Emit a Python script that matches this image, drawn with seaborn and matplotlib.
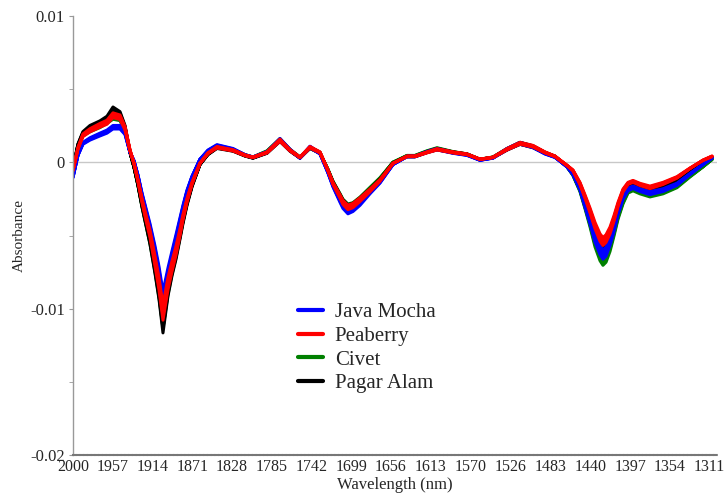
import numpy as np
import pandas as pd
import matplotlib
matplotlib.use("Agg")
import matplotlib.pyplot as plt
import seaborn as sns
from matplotlib.lines import Line2D

# Wavelength grid (nm)
wavelength = [2000.0, 1994.6, 1989.2, 1981.6, 1970.8, 1963.2, 1956.7, 1949.1, 1943.7, 1938.3,
              1934.0, 1929.7, 1925.3, 1921.0, 1916.7, 1911.3, 1906.9, 1902.6, 1897.2, 1892.9,
              1888.5, 1884.2, 1881.0, 1876.6, 1871.2, 1862.6, 1853.9, 1844.2, 1826.8, 1813.8,
              1805.2, 1790.0, 1776.0, 1765.1, 1754.3, 1743.5, 1732.7, 1724.0, 1718.6, 1711.0,
              1707.8, 1702.4, 1697.0, 1689.4, 1678.6, 1667.7, 1653.7, 1638.5, 1629.9, 1616.9,
              1606.0, 1588.7, 1573.6, 1559.5, 1545.4, 1530.3, 1516.2, 1502.1, 1489.2, 1478.3,
              1465.3, 1458.9, 1451.3, 1445.9, 1440.4, 1435.0, 1429.6, 1426.4, 1423.1, 1418.8,
              1414.5, 1410.1, 1404.7, 1399.3, 1393.9, 1386.3, 1375.5, 1361.4, 1346.3, 1332.2,
              1318.2, 1308.4]

# Absorbance values, in units of 1e-3
peaberry = [-0.55, 0.96, 1.85, 2.19, 2.53, 2.74, 3.22, 3.08, 2.33, 0.82,
            -0.07, -1.23, -2.60, -3.77, -4.86, -6.71, -8.29, -10.27, -8.29, -7.12,
            -6.03, -4.79, -3.77, -2.60, -1.44, -0.07, 0.62, 1.03, 0.82, 0.48,
            0.34, 0.68, 1.51, 0.82, 0.34, 1.03, 0.68, -0.55, -1.44, -2.33,
            -2.74, -3.08, -2.95, -2.55, -1.92, -1.23, -0.07, 0.41, 0.41, 0.68,
            0.89, 0.68, 0.55, 0.21, 0.34, 0.89, 1.30, 1.10, 0.68, 0.41,
            -0.21, -0.55, -1.44, -2.33, -3.29, -4.32, -5.14, -5.41, -5.21, -4.66,
            -3.84, -2.88, -1.92, -1.44, -1.30, -1.51, -1.71, -1.44, -1.03, -0.41,
            0.14, 0.41]

java_mocha = [-1.0, 0.5, 1.3, 1.6, 1.9, 2.1, 2.4, 2.4, 2.0, 0.7,
              0.1, -0.9, -2.2, -3.3, -4.4, -6.0, -7.5, -9.3, -7.6, -6.4,
              -5.2, -4.0, -3.1, -2.0, -1.0, 0.2, 0.8, 1.15, 0.9, 0.5,
              0.35, 0.7, 1.55, 0.85, 0.3, 1.05, 0.6, -0.7, -1.6, -2.6,
              -3.0, -3.35, -3.2, -2.8, -2.05, -1.35, -0.15, 0.4, 0.4, 0.7,
              0.9, 0.65, 0.5, 0.15, 0.3, 0.9, 1.3, 1.05, 0.6, 0.35,
              -0.3, -0.8, -1.8, -2.9, -4.0, -5.2, -6.0, -6.3, -6.1, -5.4,
              -4.5, -3.4, -2.4, -1.85, -1.7, -1.9, -2.1, -1.9, -1.5, -0.8,
              -0.15, 0.3]

civet = [-0.5, 1.1, 1.9, 2.2, 2.5, 2.8, 3.1, 3.0, 2.2, 0.7,
         -0.3, -1.5, -2.9, -4.1, -5.3, -7.1, -8.8, -10.8, -8.6, -7.3,
         -6.2, -4.9, -3.9, -2.7, -1.5, -0.1, 0.6, 1.05, 0.85, 0.5,
         0.35, 0.75, 1.55, 0.85, 0.35, 1.0, 0.65, -0.5, -1.35, -2.25,
         -2.65, -3.0, -2.9, -2.5, -1.8, -1.1, 0.0, 0.45, 0.45, 0.75,
         0.95, 0.7, 0.55, 0.2, 0.35, 0.9, 1.3, 1.05, 0.65, 0.4,
         -0.3, -0.85, -1.9, -3.0, -4.2, -5.5, -6.4, -6.7, -6.5, -5.8,
         -4.8, -3.7, -2.7, -2.0, -1.85, -2.05, -2.25, -2.05, -1.65, -0.95,
         -0.3, 0.2]

pagar_alam = [-0.4, 1.2, 2.0, 2.4, 2.7, 3.0, 3.6, 3.3, 2.4, 0.7,
              -0.3, -1.5, -2.9, -4.1, -5.3, -7.2, -8.9, -11.1, -8.7, -7.4,
              -6.3, -5.0, -4.0, -2.8, -1.6, -0.15, 0.55, 1.0, 0.8, 0.45,
              0.3, 0.65, 1.5, 0.8, 0.3, 1.0, 0.65, -0.55, -1.4, -2.3,
              -2.7, -3.05, -2.95, -2.55, -1.9, -1.2, -0.05, 0.4, 0.4, 0.7,
              0.9, 0.68, 0.55, 0.2, 0.33, 0.88, 1.3, 1.08, 0.66, 0.4,
              -0.25, -0.7, -1.65, -2.65, -3.7, -4.8, -5.65, -5.95, -5.75, -5.1,
              -4.2, -3.2, -2.2, -1.65, -1.5, -1.7, -1.9, -1.7, -1.3, -0.65,
              0.0, 0.35]

# per-sample spread factors within each class
sample_scales = [0.95, 0.98, 1.0, 1.02, 1.05]

legend_order = ["Java Mocha", "Peaberry", "Civet", "Pagar Alam"]
draw_order = ["Civet", "Pagar Alam", "Java Mocha", "Peaberry"]
class_values = {"Java Mocha": java_mocha, "Peaberry": peaberry,
                "Civet": civet, "Pagar Alam": pagar_alam}
colors = {"Java Mocha": "#0000ff", "Peaberry": "#ff0000",
          "Civet": "#008000", "Pagar Alam": "#000000"}

rows = []
for c in draw_order:
    vals = np.array(class_values[c]) * 1e-3
    for i, s in enumerate(sample_scales):
        for w, v in zip(wavelength, vals * s):
            rows.append({"wl": w, "abs": v, "cls": c, "sample": f"{c}_{i}"})
df = pd.DataFrame(rows)

sns.set_style("white")
plt.rcParams["font.family"] = ["Liberation Serif", "DejaVu Serif"]

fig = plt.figure(figsize=(7.24, 4.97), dpi=100)
ax = fig.add_axes([0.1008, 0.0845, 0.8895, 0.8833])

ax.axhline(0, color="#c8c8c8", lw=1.0, zorder=0)

for c in draw_order:
    sub = df[df["cls"] == c]
    sns.lineplot(data=sub, x="wl", y="abs", units="sample", estimator=None,
                 color=colors[c], lw=2.2, ax=ax, legend=False, sort=False)

ax.set_xlim(2000, 1303)
ax.set_ylim(-0.02, 0.01)
xticks = [2000, 1957, 1914, 1871, 1828, 1785, 1742, 1699, 1656, 1613, 1570,
          1526, 1483, 1440, 1397, 1354, 1311]
ax.set_xticks(xticks)
ax.set_xticklabels([str(t) for t in xticks], fontsize=11.5)
ax.set_yticks([-0.02, -0.01, 0, 0.01])
ax.set_yticklabels(["-0.02", "-0.01", "0", "0.01"], fontsize=12)
ax.set_yticks([-0.015, -0.005, 0.005], minor=True)
ax.tick_params(axis="y", which="both", direction="out", length=3, color="#999999",
               left=True, pad=3)
ax.tick_params(axis="x", which="both", length=0, pad=3)

for s in ["top", "right"]:
    ax.spines[s].set_visible(False)
ax.spines["left"].set_color("#999999")
ax.spines["bottom"].set_color("#777777")
ax.spines["left"].set_linewidth(1.0)
ax.spines["bottom"].set_linewidth(1.5)
ax.spines["bottom"].set_linestyle((0, (1.2, 0.6)))

ax.set_xlabel("Wavelength (nm)", fontsize=12, labelpad=1)
ax.set_ylabel("Absorbance", fontsize=11, labelpad=3)

handles = [Line2D([0], [0], color=colors[c], lw=3.0) for c in legend_order]
ax.legend(handles, legend_order,
          loc="upper left", bbox_to_anchor=(0.337, 0.366), frameon=False,
          fontsize=15, handlelength=1.2, handletextpad=0.55, labelspacing=0.2,
          borderaxespad=0)

ax.grid(False)
fig.savefig("out.png", dpi=100)
